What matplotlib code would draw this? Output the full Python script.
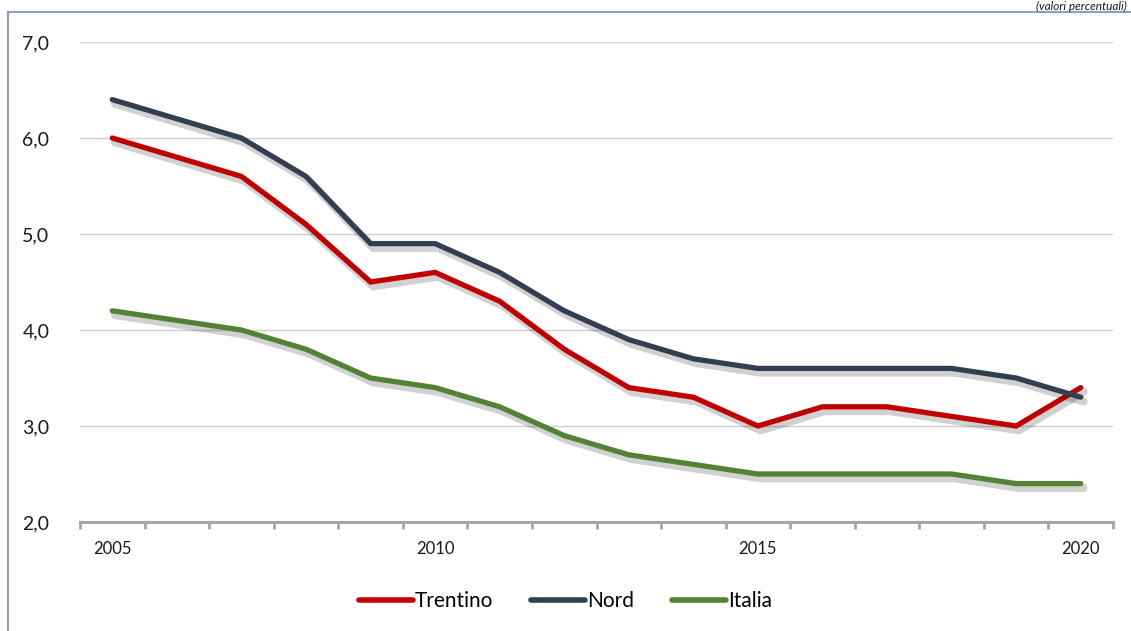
import matplotlib
matplotlib.use("Agg")
import matplotlib.pyplot as plt
import matplotlib.patheffects as pe
from matplotlib.lines import Line2D
from matplotlib.ticker import FuncFormatter, MultipleLocator

plt.rcParams['font.family'] = ['Lato', 'DejaVu Sans']

years = list(range(2005, 2021))
trentino = [6.0, 5.8, 5.6, 5.1, 4.5, 4.6, 4.3, 3.8, 3.4, 3.3, 3.0, 3.2, 3.2, 3.1, 3.0, 3.4]
nord = [6.4, 6.2, 6.0, 5.6, 4.9, 4.9, 4.6, 4.2, 3.9, 3.7, 3.6, 3.6, 3.6, 3.6, 3.5, 3.3]
italia = [4.2, 4.1, 4.0, 3.8, 3.5, 3.4, 3.2, 2.9, 2.7, 2.6, 2.5, 2.5, 2.5, 2.5, 2.4, 2.4]
series = ["Trentino", "Nord", "Italia"]
colors = ["#C00000", "#333F50", "#548235"]

W, H = 1131, 631
fig = plt.figure(figsize=(W / 100, H / 100), dpi=100)
ax = fig.add_axes([80 / W, (H - 522) / H, (1113 - 80) / W, (522 - 42) / H])

shadow = [pe.SimpleLineShadow(offset=(2, -3), shadow_color="black", alpha=0.18, linewidth=6), pe.Normal()]
for vals, name, c in zip([trentino, nord, italia], series, colors):
    ax.plot(years, vals, color=c, lw=3.8, label=name, solid_capstyle="round",
            solid_joinstyle="miter", path_effects=shadow, zorder=3)

ax.set_xlim(2004.5, 2020.5)
ax.set_ylim(2.0, 7.0)
ax.yaxis.set_major_locator(MultipleLocator(1.0))
ax.yaxis.set_major_formatter(FuncFormatter(lambda v, p: f"{v:.1f}".replace(".", ",")))
ax.set_xticks([2005, 2010, 2015, 2020])
ax.set_xticks([y - 0.5 for y in years] + [2020.5], minor=True)
ax.tick_params(axis="x", which="major", length=0, pad=14, labelsize=12, colors="#1a1a1a")
ax.tick_params(axis="x", which="minor", length=5, width=2, color="#A6A6A6", direction="out")
ax.tick_params(axis="y", length=0, pad=22, labelsize=14, colors="#1a1a1a")

ax.grid(axis="y", color="#D0D0D0", lw=1)
ax.set_axisbelow(True)
for s in ["top", "right", "left"]:
    ax.spines[s].set_visible(False)
ax.spines["bottom"].set_color("#A6A6A6")
ax.spines["bottom"].set_linewidth(2.2)
ax.spines["bottom"].set_zorder(4)

handles = [Line2D([], [], color=c, lw=4, solid_capstyle="round") for c in colors]
fig.legend(handles, series, loc="center", bbox_to_anchor=(0.5, (H - 601) / H), ncol=3,
           frameon=False, fontsize=15, handlelength=2.6, handletextpad=0.1, columnspacing=1.8)

# frame lines and note at top right
fig.add_artist(Line2D([8 / W, 8 / W], [0, (H - 12) / H], color="#8EA0C2", lw=1.5))
fig.add_artist(Line2D([8 / W, 1], [(H - 12) / H, (H - 12) / H], color="#8EA0C2", lw=1.5))
fig.text(1127 / W, (H - 1) / H, "(valori percentuali)", ha="right", va="top",
         style="italic", fontsize=8.5, color="#1a1a1a")

fig.savefig("out.png", dpi=100, facecolor="white")
